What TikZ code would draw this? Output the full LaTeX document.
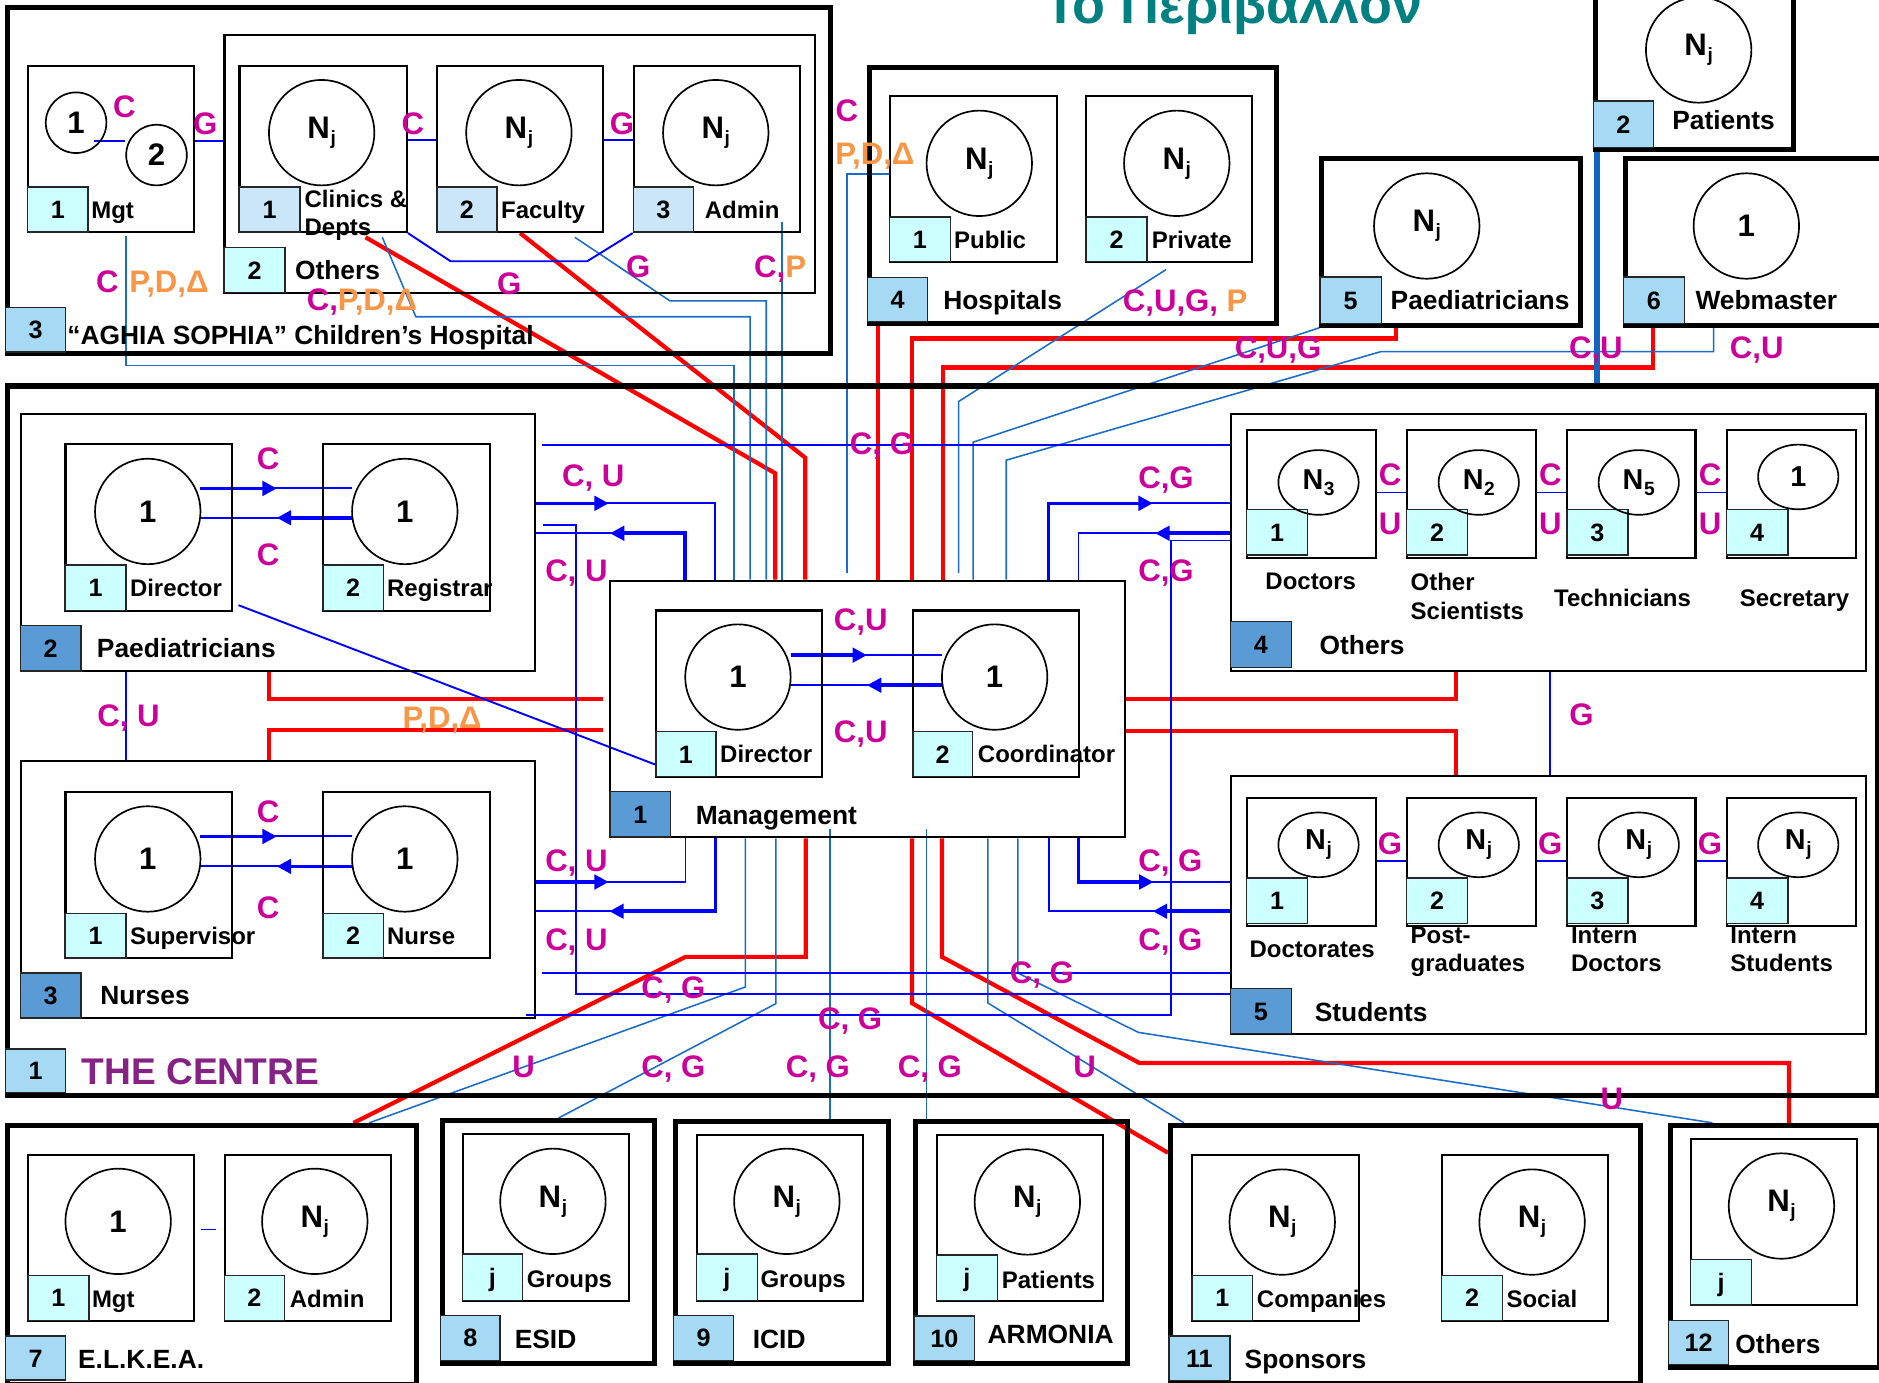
\documentclass[tikz,border=0pt]{standalone}
\usepackage{fontspec}
\setmainfont{Liberation Sans}
\usetikzlibrary{arrows.meta,shapes.geometric}
\pgfdeclarelayer{bg}
\pgfsetlayers{bg,main}
\definecolor{cyanL}{HTML}{CCFFFF}
\definecolor{blueL}{HTML}{CAE6F8}
\definecolor{skyB}{HTML}{A6D9F3}
\definecolor{steelB}{HTML}{5B9BD5}
\definecolor{mag}{HTML}{CC0099}
\definecolor{orng}{HTML}{F79646}
\definecolor{purp}{HTML}{862286}
\definecolor{tealT}{HTML}{008080}
\definecolor{lnA}{HTML}{0000FF}
\definecolor{lnB}{HTML}{1A6CC8}
\definecolor{thickB}{HTML}{1565C0}
\newcommand{\Nj}{N\kern0.5pt\raisebox{-5pt}{\fontsize{16}{16}\selectfont j}}
\newcommand{\Nsub}[1]{N\kern0.5pt\raisebox{-5pt}{\fontsize{16}{16}\selectfont #1}}
\newcommand{\mybox}[6]{\node[#1,minimum width={#5-#3},minimum height={#6-#4}] (#2) at (#3,#4) {};}
\newcommand{\numsq}[7]{\node[sq,fill=#2,minimum width={#5-#3},minimum height={#6-#4}] (#1) at (#3,#4) {#7};}
\begin{document}
\begin{tikzpicture}[x=1pt,y=-1pt,
 ibox/.style={draw=black,line width=1.7pt,inner sep=0pt,anchor=north west},
 obox/.style={draw=black,line width=4.2pt,inner sep=0pt,anchor=north west},
 sq/.style={draw=black!85,line width=1.3pt,inner sep=0pt,anchor=north west,font=\bfseries\fontsize{21}{21}\selectfont,text height=15pt,text depth=0pt},
 circ/.style={draw=black,line width=1.4pt,circle,inner sep=0pt,minimum size=88pt,font=\bfseries\fontsize{26}{26}\selectfont},
 ell/.style={draw=black,line width=1.4pt,ellipse,inner sep=0pt,minimum width=67pt,minimum height=54pt,font=\bfseries\fontsize{24}{24}\selectfont},
 nm/.style={font=\bfseries\fontsize{20}{20}\selectfont,inner sep=0pt,text height=14.3pt,text depth=0pt,anchor=west},
 nmL/.style={font=\bfseries\fontsize{22}{22}\selectfont,inner sep=0pt,text height=15.8pt,text depth=0pt,anchor=west},
 nmC/.style={nm,anchor=center},
 ml/.style={font=\bfseries\fontsize{26}{26}\selectfont,text=mag,inner sep=0pt,text height=18.7pt,text depth=0pt},
 ol/.style={ml,text=orng},
 bl/.style={draw=lnA,line width=1.6pt},
 sb/.style={draw=lnB,line width=1.3pt},
 rd/.style={draw=red,line width=3.5pt},
 tk/.style={draw=lnA,line width=3pt},
 hd/.style={-{Triangle[length=12pt,width=12pt]}},
]
\useasboundingbox (0,0) rectangle (1568,1154);
\node[font=\bfseries\fontsize{45}{45}\selectfont,text=tealT,anchor=base west,inner sep=0pt] (title) at (871,20) {Το Περιβάλλον};

% ===== AGHIA SOPHIA =====
\mybox{obox}{agh}{4}{4}{691}{293}
\mybox{ibox}{aghO}{186.5}{28.7}{679}{243.5}
\mybox{ibox}{aMgt}{22.4}{54.3}{161}{192.8}
\mybox{ibox}{aCli}{199}{54.3}{338.7}{192.8}
\mybox{ibox}{aFac}{363.8}{54.3}{502.5}{192.8}
\mybox{ibox}{aAdm}{528}{54.3}{666.6}{192.8}
\numsq{sqaMgt}{cyanL}{22.4}{155.3}{72.9}{192.8}{1}
\numsq{sqaCli}{blueL}{199}{155.3}{249.7}{192.8}{1}
\numsq{sqaFac}{blueL}{363.8}{155.3}{414}{192.8}{2}
\numsq{sqaAdm}{blueL}{528}{155.3}{578}{192.8}{3}
\numsq{sqaO}{cyanL}{186.5}{206}{237}{243.5}{2}
\numsq{sqagh}{skyB}{4}{256}{54}{293}{3}
\node[circ,minimum size=50.6pt] (am1) at (63.5,102.4) {1};
\node[circ,minimum size=50.6pt] (am2) at (130.6,129.4) {2};
\node[circ] (acl) at (268.4,110.7) {\Nj};
\node[circ] (afc) at (433,110.7) {\Nj};
\node[circ] (aad) at (597.3,110.7) {\Nj};
\node[nm] (tMgt) at (76,175) {Mgt};
\node[nm] (tCli1) at (254,165.6) {Clinics \&};
\node[nm] (tCli2) at (254,189) {Depts};
\node[nm] (tFac) at (418,175) {Faculty};
\node[nm] (tAdm) at (588,175) {Admin};
\node[nmL] (tOth) at (246,225.4) {Others};
\node[nmL] (tAgh) at (56,279.6) {“AGHIA SOPHIA” Children's Hospital};

% ===== Hospitals =====
\mybox{obox}{hos}{723.4}{54.3}{1063.5}{267.7}
\mybox{ibox}{hPub}{741.6}{79.3}{881}{217.6}
\mybox{ibox}{hPri}{905.6}{79.3}{1044}{217.6}
\numsq{sqhPub}{cyanL}{741.6}{180.3}{792.5}{217.6}{1}
\numsq{sqhPri}{cyanL}{905.6}{180.3}{956.5}{217.6}{2}
\numsq{sqhos}{skyB}{723.4}{231}{773.4}{267.7}{4}
\node[circ] (hc1) at (817.2,136.3) {\Nj};
\node[circ] (hc2) at (982,136.3) {\Nj};
\node[nm] (tPub) at (796,199.8) {Public};
\node[nm] (tPri) at (961,199.8) {Private};
\node[nmL] (tHos) at (787,250.4) {Hospitals};

% ===== Paediatricians (5) =====
\mybox{obox}{pae}{1101}{130}{1316.8}{269.3}
\numsq{sqpae}{skyB}{1101}{230.4}{1152}{269.3}{5}
\node[circ] (pc) at (1190.6,188.6) {\Nj};
\node[nmL] (tPae) at (1160.3,250.4) {Paediatricians};

% ===== Patients =====
\mybox{obox}{pat}{1329}{-10}{1494.8}{122.4}
\numsq{sqpat}{skyB}{1329}{83.5}{1379}{122.4}{2}
\node[circ] (ptc) at (1417.5,41.7) {\Nj};
\node[nmL] (tPat) at (1395.3,100) {Patients};

% ===== Webmaster =====
\mybox{obox}{web}{1354}{130}{1580}{269.3}
\numsq{sqweb}{skyB}{1354}{230.4}{1405}{269.3}{6}
\node[circ] (wc) at (1457.3,188.6) {1};
\node[nmL] (tWeb) at (1414.7,250.4) {Webmaster};

% ===== THE CENTRE =====
\mybox{obox}{cen}{4}{320}{1565}{912}
\numsq{sqcen}{skyB}{4}{874.8}{54}{911}{1}
\node[font=\bfseries\fontsize{31}{31}\selectfont,text=purp,inner sep=0pt,text height=22.2pt,text depth=0pt,anchor=west] (tCen) at (68,894) {THE CENTRE};

% Paediatricians (2)
\mybox{ibox}{pd}{16.4}{344.8}{445.5}{559.3}
\mybox{ibox}{pdD}{53.8}{369.7}{193}{508.8}
\mybox{ibox}{pdR}{268.7}{369.7}{407.7}{508.8}
\numsq{sqpdD}{cyanL}{53.8}{471}{104.5}{508.8}{1}
\numsq{sqpdR}{cyanL}{268.7}{471}{319.5}{508.8}{2}
\numsq{sqpd}{steelB}{16.4}{521.4}{66.8}{559.3}{2}
\node[circ] (pdc1) at (123.3,426.8) {1};
\node[circ] (pdc2) at (337.8,426.8) {1};
\node[nm] (tpdD) at (108.3,490.4) {Director};
\node[nm] (tpdR) at (322.9,490.4) {Registrar};
\node[nmL] (tpd) at (80.7,540.6) {Paediatricians};

% Nurses (3)
\mybox{ibox}{nu}{16.4}{634.4}{445.5}{849}
\mybox{ibox}{nuS}{53.8}{659.7}{193}{798.8}
\mybox{ibox}{nuN}{268.7}{659.7}{407.7}{798.8}
\numsq{sqnuS}{cyanL}{53.8}{761.6}{104.5}{798.8}{1}
\numsq{sqnuN}{cyanL}{268.7}{761.6}{319.5}{798.8}{2}
\numsq{sqnu}{steelB}{16.4}{811.4}{66.8}{849}{3}
\node[circ] (nuc1) at (123.3,716.8) {1};
\node[circ] (nuc2) at (337.8,716.8) {1};
\node[nm] (tnuS) at (108.3,780.8) {Supervisor};
\node[nm] (tnuN) at (322.9,780.8) {Nurse};
\node[nmL] (tnu) at (83.5,830.6) {Nurses};

% Management (1)
\mybox{ibox}{mgm}{508.3}{483.6}{937.7}{697.8}
\mybox{ibox}{mgD}{546.8}{508.6}{685.3}{647.5}
\mybox{ibox}{mgC}{761}{508.6}{899.8}{647.5}
\numsq{msq1}{cyanL}{546.8}{609.9}{596.7}{647.5}{1}
\numsq{msq2}{cyanL}{761}{609.9}{810.8}{647.5}{2}
\numsq{sqmgm}{steelB}{508.3}{660}{559}{697.8}{1}
\node[circ] (mgc1) at (615.8,565) {1};
\node[circ] (mgc2) at (830,565) {1};
\node[nm] (tmgD) at (600.8,628.8) {Director};
\node[nm] (tmgC) at (815.9,628.8) {Coordinator};
\node[nmL] (tmgm) at (580.4,680.3) {Management};

% Others (4)
\mybox{ibox}{ot}{1026.2}{344.7}{1556.6}{559}
\mybox{ibox}{o1}{1039.6}{358}{1147}{465}
\mybox{ibox}{o2}{1173}{358}{1280.7}{465}
\mybox{ibox}{o3}{1306.8}{358}{1414}{465}
\mybox{ibox}{o4}{1440.2}{358}{1548}{465}
\numsq{osq1}{cyanL}{1039.6}{424.4}{1090.6}{462.4}{1}
\numsq{osq2}{cyanL}{1173}{424.4}{1224}{462.4}{2}
\numsq{osq3}{cyanL}{1306.8}{424.4}{1357.8}{462.4}{3}
\numsq{osq4}{cyanL}{1440.2}{424.4}{1491.2}{462.4}{4}
\numsq{sqot}{steelB}{1026.2}{517.8}{1077}{556.5}{4}
\node[ell] (oe1) at (1100.3,402.6) {\Nsub{3}};
\node[ell] (oe2) at (1234,402.6) {\Nsub{2}};
\node[ell] (oe3) at (1367.5,402.6) {\Nsub{5}};
\node[ell] (oe4) at (1500.6,398) {1};
\node[nmC] (to1) at (1093.8,484.8) {Doctors};
\node[nm] (to2a) at (1177,485.8) {Other};
\node[nm] (to2b) at (1177,510) {Scientists};
\node[nmC] (to3) at (1354,498.6) {Technicians};
\node[nmC] (to4) at (1497.5,499.2) {Secretary};
\node[nmL] (tot) at (1101,538.4) {Others};

% Students (5)
\mybox{ibox}{st}{1026.2}{647}{1556.6}{861.7}
\mybox{ibox}{s1}{1039.6}{665}{1147}{771.9}
\mybox{ibox}{s2}{1173}{665}{1280.7}{771.9}
\mybox{ibox}{s3}{1306.8}{665}{1414}{771.9}
\mybox{ibox}{s4}{1440.2}{665}{1548}{771.9}
\numsq{ssq1}{cyanL}{1039.6}{732}{1090.6}{770}{1}
\numsq{ssq2}{cyanL}{1173}{732}{1224}{770}{2}
\numsq{ssq3}{cyanL}{1306.8}{732}{1357.8}{770}{3}
\numsq{ssq4}{cyanL}{1440.2}{732}{1491.2}{770}{4}
\numsq{sqst}{steelB}{1026.2}{824.4}{1077}{861.7}{5}
\node[ell] (se1) at (1100.3,705) {\Nj};
\node[ell] (se2) at (1234,705) {\Nj};
\node[ell] (se3) at (1367.5,705) {\Nj};
\node[ell] (se4) at (1500.6,705) {\Nj};
\node[nmC] (ts1) at (1095,791.8) {Doctorates};
\node[nm] (ts2a) at (1177,779.9) {Post-};
\node[nm] (ts2b) at (1177,803.7) {graduates};
\node[nm] (ts3a) at (1310.8,779.9) {Intern};
\node[nm] (ts3b) at (1310.8,803.7) {Doctors};
\node[nm] (ts4a) at (1443.8,779.9) {Intern};
\node[nm] (ts4b) at (1443.8,803.7) {Students};
\node[nmL] (tst) at (1097,844.3) {Students};

% ===== bottom row =====
\mybox{obox}{elk}{4}{937}{345.3}{1153}
\mybox{ibox}{eM}{22.5}{962.7}{161}{1101.3}
\mybox{ibox}{eA}{186.7}{962.7}{325.3}{1101.3}
\numsq{esq1}{cyanL}{22.5}{1063.7}{73.5}{1101.3}{1}
\numsq{esq2}{cyanL}{186.7}{1063.7}{236.7}{1101.3}{2}
\numsq{sqelk}{skyB}{4}{1114.4}{54}{1151}{7}
\node[circ] (ec1) at (98.6,1019.2) {1};
\node[circ] (ec2) at (262.7,1019.2) {\Nj};
\node[nm] (teM) at (76.6,1083.7) {Mgt};
\node[nm] (teA) at (241.7,1083.7) {Admin};
\node[nmL] (telk) at (65,1133.8) {E.L.K.E.A.};

\mybox{obox}{esi}{366.8}{933}{544}{1136}
\mybox{ibox}{esI}{385.3}{945.5}{524}{1084.6}
\numsq{esj}{cyanL}{385.3}{1046}{435.3}{1084.6}{j}
\numsq{sqesi}{skyB}{366.8}{1097}{416.8}{1134.6}{8}
\node[circ] (esc) at (461.4,1002.5) {\Nj};
\node[nm] (tesG) at (439.4,1067.6) {Groups};
\node[nmL] (tesi) at (429.4,1117) {ESID};

\mybox{obox}{ici}{561.5}{933.6}{739}{1136}
\mybox{ibox}{icI}{580.5}{946}{719}{1084.6}
\numsq{icj}{cyanL}{580.5}{1046}{631.5}{1084.6}{j}
\numsq{sqici}{skyB}{561.5}{1097}{611.5}{1134.6}{9}
\node[circ] (icc) at (656.6,1002.5) {\Nj};
\node[nm] (ticG) at (634.5,1067.6) {Groups};
\node[nmL] (tici) at (628,1117) {ICID};

\mybox{obox}{arm}{762}{933.5}{939}{1135.8}
\mybox{ibox}{arI}{780.7}{946}{919.6}{1084.6}
\numsq{arj}{cyanL}{780.7}{1046.8}{831.7}{1084.6}{j}
\numsq{sqarm}{skyB}{762}{1097.7}{812.7}{1134.6}{10}
\node[circ] (arc) at (857.3,1003) {\Nj};
\node[nm] (tarP) at (835.8,1068) {Patients};
\node[nmL] (tarm) at (824,1113) {ARMONIA};

\mybox{obox}{spo}{974.7}{937}{1366.8}{1152.5}
\mybox{ibox}{spC}{994.2}{962.7}{1133}{1101.3}
\mybox{ibox}{spS}{1202.4}{962.7}{1341.2}{1101.3}
\numsq{spsq1}{cyanL}{994.2}{1063.7}{1044.6}{1101.3}{1}
\numsq{spsq2}{cyanL}{1202.4}{1063.7}{1253}{1101.3}{2}
\numsq{sqspo}{skyB}{974.7}{1114.4}{1025.8}{1151.4}{11}
\node[circ] (spc1) at (1070,1019.8) {\Nj};
\node[circ] (spc2) at (1278.5,1019.8) {\Nj};
\node[nm] (tspC) at (1048.7,1083.7) {Companies};
\node[nm] (tspS) at (1257,1083.7) {Social};
\node[nmL] (tspo) at (1038.5,1133.8) {Sponsors};

\mybox{obox}{o12}{1391.8}{937}{1566}{1139.4}
\mybox{ibox}{o12I}{1410.2}{949.6}{1549}{1088.5}
\numsq{o12j}{cyanL}{1410.2}{1050.4}{1460.8}{1088.5}{j}
\numsq{sqo12}{skyB}{1391.8}{1101.3}{1441.8}{1138}{12}
\node[circ] (o12c) at (1486.6,1006.4) {\Nj};
\node[nmL] (to12) at (1448,1121.3) {Others};

% ===== connectors =====
\begin{pgfonlayer}{bg}
% red
\draw[rd] (305,198) -- (647,395) -- (mgm.north -| 647,0);
\draw[rd] (aFac.south) -- (672,382) -- (mgm.north -| 672,0);
\draw[rd] (sqhos.south -| 732.6,0) -- (mgm.north -| 732.6,0);
\draw[rd] (pae.south -| 1164.6,0) -- (1164.6,282.4) -- (761,282.4) -- (mgm.north -| 761,0);
\draw[rd] (web.south -| 1379.3,0) -- (1379.3,306.6) -- (786.9,306.6) -- (mgm.north -| 786.9,0);
\draw[rd] (pd.south -| 224.8,0) -- (224.8,583.5) -- (503,583.5);
\draw[rd] (nu.north -| 224.8,0) -- (224.8,609.5) -- (503,609.5);
\draw[rd] (mgm.east |- 0,583.6) -- (1215,583.6) -- (ot.south -| 1215,0);
\draw[rd] (mgm.east |- 0,609.7) -- (1215,609.7) -- (st.north -| 1215,0);
\draw[rd] (mgm.south -| 672.4,0) -- (672.4,798.5) -- (572,798.5) -- (elk.north -| 295,0);
\draw[rd] (mgm.south -| 761,0) -- (761,837) -- (spo.west |- 0,962);
\draw[rd] (mgm.south -| 786,0) -- (786,798.5) -- (950.7,887) -- (1492.9,887) -- (o12.north -| 1492.9,0);
% steel blue
\draw[sb] (105,197) -- (105,305) -- (612.7,305) -- (mgm.north -| 612.7,0);
\draw[sb] (319,198) -- (347,264.3) -- (626,264.3) -- (mgm.north -| 626,0);
\draw[sb] (479.6,198) -- (559,251) -- (639.4,251) -- (mgm.north -| 639.4,0);
\draw[sb] (652.7,185) -- (mgm.north -| 652.7,0);
\draw[sb] (hPub.west |- 0,145) -- (706.7,145) -- (706.7,478);
\draw[sb] (973,225) -- (800,335) -- (800,478);
\draw[sb] (pae.south west) -- (812,369) -- (mgm.north -| 812,0);
\draw[sb] (web.south -| 1430,0) -- (1430,293.5) -- (1152,293.5) -- (839.7,384) -- (mgm.north -| 839.7,0);
\draw[sb] (mgm.south -| 622,0) -- (622,823.6) -- (elk.north -| 308,0);
\draw[sb] (mgm.south -| 647.5,0) -- (647.5,837.5) -- (esi.north -| 466,0);
\draw[sb] (692.8,692) -- (ici.north -| 692.8,0);
\draw[sb] (773,692) -- (arm.north -| 773,0);
\draw[sb] (mgm.south -| 824.4,0) -- (824.4,837) -- (spo.north -| 988,0);
\draw[sb] (mgm.south -| 849.4,0) -- (849.4,812) -- (950,861.5) -- (o12.north -| 1429,0);
% pure blue
\draw[bl] (452,371.5) -- (ot.west |- 0,371.5);
\draw[bl] (500,420) -- (597,420) -- (mgm.north -| 597,0);
\draw[tk,hd] (pd.east |- 0,420) -- (508,420);
\draw[tk,hd] (mgm.north -| 571.8,0) -- (571.8,445) -- (509,445);
\draw[bl] (515,445) -- (pd.east |- 0,445);
\draw[tk,hd] (nu.east |- 0,736) -- (508,736);
\draw[bl] (500,736) -- (572,736) -- (mgm.south -| 572,0);
\draw[tk,hd] (mgm.south -| 597,0) -- (597,760.4) -- (508.5,760.4);
\draw[bl] (515,760.4) -- (nu.east |- 0,760.4);
\draw[tk,hd] (mgm.north -| 874.8,0) -- (874.8,420) -- (962,420);
\draw[bl] (955,420) -- (ot.west |- 0,420);
\draw[tk,hd] (ot.west |- 0,445) -- (964,445);
\draw[bl] (970,445) -- (900,445) -- (mgm.north -| 900,0);
\draw[tk,hd] (mgm.south -| 900,0) -- (900,736) -- (962.6,736);
\draw[bl] (955,736) -- (st.west |- 0,736);
\draw[tk,hd] (st.west |- 0,760.4) -- (962,760.4);
\draw[bl] (970,760.4) -- (875,760.4) -- (mgm.south -| 875,0);
\draw[bl] (453,438) -- (481,438) -- (481,829.5) -- (st.west |- 0,829.5);
\draw[bl] (452.6,812) -- (st.west |- 0,812);
\draw[bl] (ot.west |- 0,451) -- (977,451) -- (977,847) -- (439,847);
\draw[bl] (pd.south -| 104.9,0) -- (nu.north -| 104.9,0);
\draw[bl] (ot.south -| 1293.8,0) -- (st.north -| 1293.8,0);
\draw[bl] (199,505) -- (msq1.west |- 0,638);
% AGHIA internal
\draw[bl] (78.3,117.4) -- (am2.west |- 0,117.4);
\draw[bl] (aMgt.east |- 0,117.4) -- (aghO.west |- 0,117.4);
\draw[bl] (aCli.east |- 0,117) -- (aFac.west |- 0,117);
\draw[bl] (aFac.east |- 0,117) -- (aAdm.west |- 0,117);
\draw[bl] (aCli.south east) -- (376,218) -- (490,218) -- (aAdm.south west);
% internal arrows
\draw[bl] (167,407.6) -- (294,407.6);
\draw[tk,hd] (167,407.6) -- (231,407.6);
\draw[bl] (167,432.1) -- (294,432.1);
\draw[tk,hd] (294,432.1) -- (231,432.1);
\draw[bl] (167,698) -- (294,698);
\draw[tk,hd] (167,698) -- (231,698);
\draw[bl] (167,723) -- (294,723);
\draw[tk,hd] (294,723) -- (231,723);
\draw[bl] (660,546.7) -- (786,546.7);
\draw[tk,hd] (660,546.7) -- (723.5,546.7);
\draw[bl] (660,571.8) -- (786,571.8);
\draw[tk,hd] (786,571.8) -- (723.5,571.8);
\draw[bl] (o1.east |- 0,411) -- (o2.west |- 0,411);
\draw[bl] (o2.east |- 0,411) -- (o3.west |- 0,411);
\draw[bl] (o3.east |- 0,411) -- (o4.west |- 0,411);
\draw[bl] (s1.east |- 0,718.3) -- (s2.west |- 0,718.3);
\draw[bl] (s2.east |- 0,718.3) -- (s3.west |- 0,718.3);
\draw[bl] (s3.east |- 0,718.3) -- (s4.west |- 0,718.3);
\draw[bl] (167.6,1026) -- (180.2,1026);
\draw[draw=thickB,line width=5pt] (1333,118) -- (cen.north -| 1333,0);
\end{pgfonlayer}

% ===== labels =====
\node[ml] (l01) at (103.8,89) {C};
\node[ml] (l02) at (171.3,103) {G};
\node[ml] (l03) at (344.5,103) {C};
\node[ml] (l04) at (519,103) {G};
\node[ml] (l05) at (89.5,235) {C};
\node[ol] (l06) at (141,235) {P,D,Δ};
\node[ml] (l07) at (302,250) {C,\textcolor{orng}{P,D,Δ}};
\node[ml] (l08) at (425,236.5) {G};
\node[ml] (l09) at (532.5,222.6) {G};
\node[ml] (l10) at (651,222.6) {C,\textcolor{orng}{P}};
\node[ml] (l11) at (706.7,91.8) {C};
\node[ol] (l12) at (730,128) {P,D,Δ};
\node[ml,anchor=west] (l13) at (936.8,250.4) {C,U,G, \textcolor{orng}{P}};
\node[ml] (l14) at (1066.5,289.4) {C,U,G};
\node[ml] (l15) at (1331.7,289.4) {C,U};
\node[ml] (l16) at (1466,289.4) {C,U};
\node[ml] (l17) at (736,370) {C, G};
\node[ml] (l18) at (495,396.5) {C, U};
\node[ml] (l19) at (481,476) {C, U};
\node[ml] (l20) at (973,398) {C,G};
\node[ml] (l21) at (973,476) {C,G};
\node[ml] (l22) at (223.8,382.3) {C};
\node[ml] (l23) at (223.8,462.8) {C};
\node[ml] (l24) at (223.8,677.4) {C};
\node[ml] (l25) at (223.8,757) {C};
\node[ml] (l26) at (107.3,597) {C, U};
\node[ol] (l27) at (368.9,598.8) {P,D,Δ};
\node[ml] (l28) at (1319.7,596.3) {G};
\node[ml] (l29) at (718.3,517) {C,U};
\node[ml] (l30) at (718.3,610) {C,U};
\node[ml] (l31) at (1160,395.4) {C};
\node[ml] (l32) at (1160,436.3) {U};
\node[ml] (l33) at (1293.7,395.4) {C};
\node[ml] (l34) at (1293.7,436.3) {U};
\node[ml] (l35) at (1427,395.4) {C};
\node[ml] (l36) at (1427,436.3) {U};
\node[ml] (l37) at (1160,703.7) {G};
\node[ml] (l38) at (1293.7,703.7) {G};
\node[ml] (l39) at (1427,703.7) {G};
\node[ml] (l40) at (481,718) {C, U};
\node[ml] (l41) at (481,784) {C, U};
\node[ml] (l42) at (976.6,718) {C, G};
\node[ml] (l43) at (976.6,784) {C, G};
\node[ml] (l44) at (562,823.6) {C, G};
\node[ml] (l45) at (869.5,811) {C, G};
\node[ml] (l46) at (709.5,850) {C, G};
\node[ml] (l47) at (437,890) {U};
\node[ml] (l48) at (562,890) {C, G};
\node[ml] (l49) at (682.5,890) {C, G};
\node[ml] (l50) at (776,890) {C, G};
\node[ml] (l51) at (905,890) {U};
\node[ml] (l52) at (1345,916.5) {U};
\end{tikzpicture}
\end{document}
